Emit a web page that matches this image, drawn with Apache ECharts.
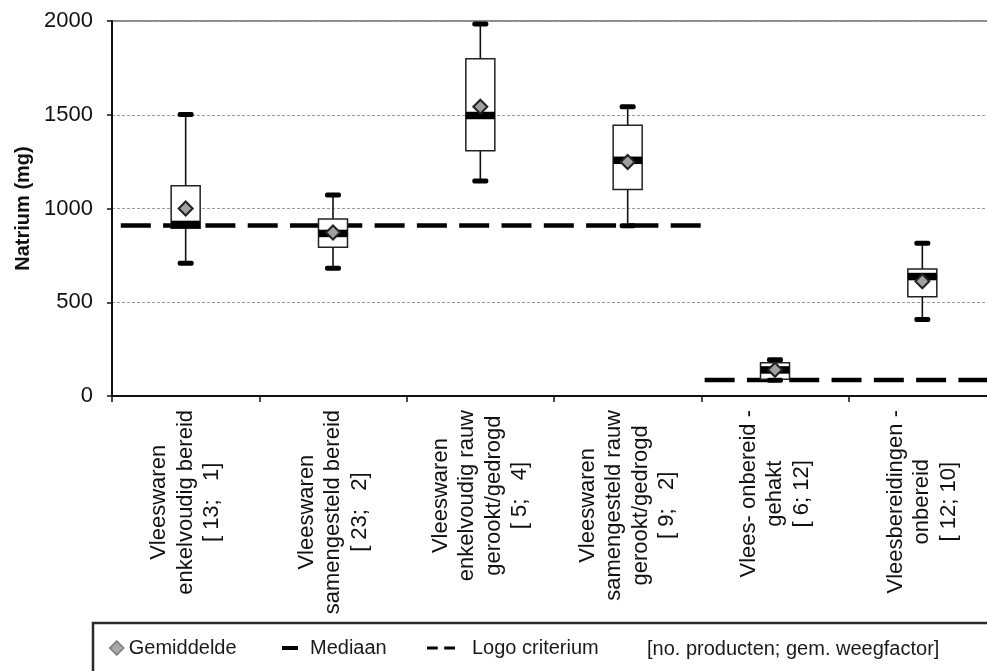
<!DOCTYPE html>
<html>
<head>
<meta charset="utf-8">
<title>Natrium per productgroep</title>
<script src="https://cdn.jsdelivr.net/npm/echarts@6/dist/echarts.min.js"></script>
<style>
  html, body { margin: 0; padding: 0; background: #fff; overflow: hidden; }
  /* the plot area runs slightly past the right edge of the window */
  #chart { width: 1000px; height: 671px; }
</style>
</head>
<body>
<div id="chart"></div>
<script>
// Product groups (label lines) with their counts and mean weighting factor
const categoryLines = [
  ['Vleeswaren', 'enkelvoudig bereid'],
  ['Vleeswaren', 'samengesteld bereid'],
  ['Vleeswaren', 'enkelvoudig rauw', 'gerookt/gedrogd'],
  ['Vleeswaren', 'samengesteld rauw', 'gerookt/gedrogd'],
  ['Vlees- onbereid -', 'gehakt'],
  ['Vleesbereidingen -', 'onbereid']
];
const productCounts = [13, 23, 5, 9, 6, 12];
const weightFactors = [1, 2, 4, 2, 12, 10];

// Sodium (mg) distribution per group
const whiskerMin = [708, 681, 1147, 908, 84, 408];
const quartile1  = [895, 793, 1308, 1102, 89, 530];
const medians    = [915, 867, 1496, 1257, 139, 637];
const quartile3  = [1122, 944, 1799, 1444, 178, 677];
const whiskerMax = [1502, 1072, 1984, 1543, 193, 815];
const means      = [1000, 872, 1543, 1248, 140, 612];

// Logo criterion per group (mg)
const logoCriterium = [910, 910, 910, 910, 85, 85];

// Y axis ticks
const yTicks = { min: 0, max: 2000, interval: 500 };

const FONT = '"Liberation Sans", Arial, sans-serif';

const categories = categoryLines.map(l => l.join(' '));

function bracketNote(i) {
  const w = weightFactors[i];
  return '[ ' + productCounts[i] + ';' + (w < 10 ? '   ' : ' ') + w + ']';
}

const boxData = categories.map((c, i) =>
  [i, whiskerMin[i], quartile1[i], medians[i], quartile3[i], whiskerMax[i]]);

// Build criterion segments from consecutive groups sharing the same value
const criterionSegments = [];
{
  let start = 0;
  for (let i = 1; i <= logoCriterium.length; i++) {
    if (i === logoCriterium.length || logoCriterium[i] !== logoCriterium[start]) {
      criterionSegments.push([[start, logoCriterium[start]], [i, logoCriterium[start]]]);
      start = i;
    }
  }
}
const dashOffsets = [33.5, 39];

function renderBox(params, api) {
  const i = api.value(0);
  const pMin = api.coord([i, api.value(1)]);
  const pQ1 = api.coord([i, api.value(2)]);
  const pMed = api.coord([i, api.value(3)]);
  const pQ3 = api.coord([i, api.value(4)]);
  const pMax = api.coord([i, api.value(5)]);
  const cx = pMin[0];
  const bw = 29, capW = 16, capH = 5, medH = 7.5;
  return {
    type: 'group',
    children: [
      { type: 'line', shape: { x1: cx, y1: pMax[1], x2: cx, y2: pMin[1] },
        style: { stroke: '#111', lineWidth: 1.6 } },
      { type: 'rect', shape: { x: cx - bw / 2, y: pQ3[1], width: bw, height: pQ1[1] - pQ3[1] },
        style: { fill: '#fff', stroke: '#222', lineWidth: 1.5 } },
      { type: 'rect', shape: { x: cx - bw / 2, y: pMed[1] - medH / 2, width: bw, height: medH },
        style: { fill: '#000' } },
      { type: 'rect', shape: { x: cx - capW / 2, y: pMax[1] - capH / 2, width: capW, height: capH, r: 2 },
        style: { fill: '#000' } },
      { type: 'rect', shape: { x: cx - capW / 2, y: pMin[1] - capH / 2, width: capW, height: capH, r: 2 },
        style: { fill: '#000' } }
    ]
  };
}

const chart = echarts.init(document.getElementById('chart'), null, { renderer: 'canvas' });

const legendText = { fontSize: 20, color: '#1a1a1a', fontFamily: FONT, lineHeight: 22 };

chart.setOption({
  backgroundColor: '#fff',
  animation: false,
  textStyle: { fontFamily: FONT },
  grid: {
    left: 112, top: 21, width: 884, height: 375,
    show: true, borderColor: '#8a8a8a', borderWidth: 2, backgroundColor: '#fff'
  },
  title: {
    text: '[no. producten; gem. weegfactor]',
    left: 647, top: 638, padding: 0,
    textStyle: { fontSize: 20, fontWeight: 'normal', color: '#1a1a1a', fontFamily: FONT, lineHeight: 22 }
  },
  legend: [
    {
      left: 109, top: 637, padding: 0, itemWidth: 14, itemHeight: 14, selectedMode: false,
      data: [{ name: 'Gemiddelde', icon: 'diamond',
        itemStyle: { color: '#a8a8a8', borderColor: '#777', borderWidth: 1.5 } }],
      textStyle: legendText
    },
    {
      left: 282, top: 637, padding: 0, itemWidth: 16, itemHeight: 4, selectedMode: false,
      data: [{ name: 'Mediaan', icon: 'rect', itemStyle: { color: '#000', borderWidth: 0 } }],
      textStyle: Object.assign({}, legendText, { padding: [0, 0, 0, 7] })
    },
    {
      left: 427, top: 637, padding: 0, itemWidth: 28, itemHeight: 4, selectedMode: false,
      data: [{ name: 'Logo criterium', icon: 'path://M0,0h10v3h-10z M16,0h10v3h-10z',
        itemStyle: { color: '#000', borderWidth: 0 } }],
      textStyle: Object.assign({}, legendText, { padding: [0, 0, 0, 12] })
    }
  ],
  graphic: [
    { type: 'rect', shape: { x: 93, y: 623, width: 900, height: 100 },
      style: { fill: null, stroke: '#2a2a2a', lineWidth: 2.5 }, silent: true }
  ],
  xAxis: [
    {
      type: 'category',
      data: categories,
      boundaryGap: true,
      axisLine: { lineStyle: { color: '#111', width: 2 } },
      axisTick: { show: true, length: 6, lineStyle: { color: '#111', width: 1.5 } },
      axisLabel: {
        interval: 0,
        rotate: 90,
        margin: 14,
        formatter: (value, idx) =>
          categoryLines[idx].concat([bracketNote(idx)]).map(s => '{c|' + s + '}').join('\n'),
        rich: {
          c: { align: 'center', fontSize: 22, lineHeight: 26.5, color: '#111', fontFamily: FONT }
        }
      }
    },
    {
      type: 'value', min: 0, max: categories.length, show: false
    }
  ],
  yAxis: {
    type: 'value',
    min: yTicks.min, max: yTicks.max, interval: yTicks.interval,
    name: 'Natrium (mg)',
    nameLocation: 'middle',
    nameGap: 76,
    nameTextStyle: { fontSize: 20, fontWeight: 'bold', color: '#111', fontFamily: FONT },
    axisLine: { show: true, lineStyle: { color: '#111', width: 2 } },
    axisTick: { show: true, length: 5, lineStyle: { color: '#111', width: 1.5 } },
    axisLabel: { fontSize: 22, color: '#111', margin: 19, fontFamily: FONT,
      formatter: v => String(v) },
    splitLine: { show: true, lineStyle: { color: '#9a9a9a', width: 1, type: [3, 2] } }
  },
  series: [
    ...criterionSegments.map((seg, k) => ({
      name: 'Logo criterium',
      type: 'line',
      xAxisIndex: 1,
      data: seg,
      symbol: 'none',
      color: '#000',
      z: 1,
      lineStyle: { color: '#000', width: 4.5, type: [30, 12.3], dashOffset: dashOffsets[k] || 0, cap: 'butt' }
    })),
    {
      name: 'Mediaan',
      type: 'custom',
      renderItem: renderBox,
      data: boxData,
      encode: { x: 0, y: [1, 2, 3, 4, 5] },
      color: '#000',
      z: 2
    },
    {
      name: 'Gemiddelde',
      type: 'scatter',
      data: means,
      symbol: 'diamond',
      symbolSize: 14,
      z: 3,
      itemStyle: { color: '#a0a0a0', borderColor: '#222', borderWidth: 2, opacity: 1 }
    }
  ]
});
</script>
</body>
</html>
